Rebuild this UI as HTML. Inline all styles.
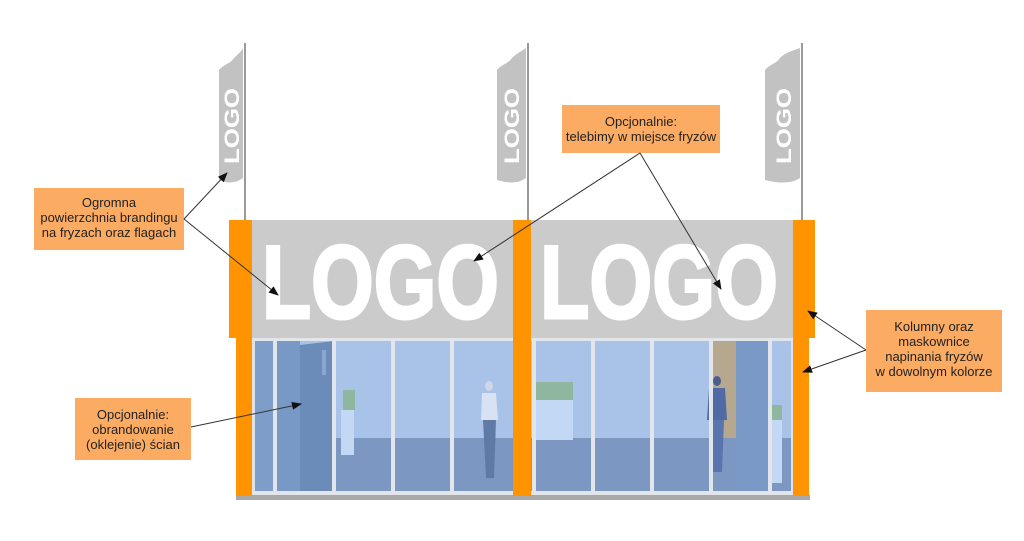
<!DOCTYPE html>
<html><head><meta charset="utf-8"><style>
html,body{margin:0;padding:0;background:#fff;}
svg{display:block;}
text{font-family:"Liberation Sans",sans-serif;}
.lbl{font-family:"Liberation Sans",sans-serif;font-size:13px;fill:#222;text-anchor:middle;}
</style></head><body>
<svg width="1024" height="541" viewBox="0 0 1024 541" xmlns="http://www.w3.org/2000/svg">
<defs>
<marker id="ah" markerWidth="10" markerHeight="8" refX="9" refY="4" orient="auto" markerUnits="userSpaceOnUse">
<path d="M0,0 L10,4 L0,8 z" fill="#111"/></marker>
</defs>
<g fill="#9a9a9a">
<rect x="244" y="43" width="2" height="177"/>
<rect x="527" y="43" width="2" height="177"/>
<rect x="801" y="43" width="2" height="177"/>
</g>
<g fill="#c2c2c2">
<path d="M219,70 C224,64 230,64 234,58 C238,54 241,52 243,48 L243,178 C236,183 228,184 219,180 Z"/>
<path d="M497,70 C502,64 508,64 512,58 C516,54 520,52 526,48 L526,178 C519,183 510,184 497,180 Z"/>
<path d="M765,70 C770,64 776,64 780,58 C784,54 788,52 800,48 L800,178 C793,183 780,184 765,180 Z"/>
</g>
<g fill="#fff" font-weight="bold" font-size="21">
<text transform="translate(239,164) rotate(-90)" textLength="76" lengthAdjust="spacingAndGlyphs">LOGO</text>
<text transform="translate(519,164) rotate(-90)" textLength="76" lengthAdjust="spacingAndGlyphs">LOGO</text>
<text transform="translate(791,164) rotate(-90)" textLength="76" lengthAdjust="spacingAndGlyphs">LOGO</text>
</g>
<rect x="252" y="220" width="541" height="118" fill="#cbcbcb"/>
<g fill="#fff" font-weight="bold" font-size="104" stroke="#fff" stroke-width="3">
<text x="262" y="318" textLength="237" lengthAdjust="spacingAndGlyphs">LOGO</text>
<text x="540" y="318" textLength="238" lengthAdjust="spacingAndGlyphs">LOGO</text>
</g>
<rect x="252" y="338" width="541" height="157" fill="#dde3ea"/>
<rect x="255" y="341" width="536" height="97" fill="#a9c3e8"/>
<rect x="255" y="438" width="536" height="54" fill="#7c98c2"/>
<rect x="255" y="341" width="20" height="151" fill="#7f9dc9"/>
<path d="M300,345 L334,341 L334,492 L300,492 Z" fill="#6b8bb8"/>
<rect x="277" y="341" width="23" height="151" fill="#7898c5"/>
<rect x="322" y="350" width="4" height="25" fill="#8aa6cf"/>
<rect x="341" y="410" width="13" height="45" fill="#c3d8f5"/>
<rect x="343" y="390" width="12" height="20" fill="#8fb7a0"/>
<rect x="535" y="400" width="38" height="40" fill="#c3d8f5"/>
<rect x="535" y="382" width="38" height="18" fill="#8fb7a0"/>
<rect x="772" y="420" width="10" height="63" fill="#c3d8f5"/>
<rect x="772" y="405" width="10" height="15" fill="#8fb7a0"/>
<rect x="712" y="341" width="24" height="97" fill="#b6a88f"/>
<rect x="736" y="341" width="34" height="151" fill="#7b99c6"/>
<g>
<ellipse cx="489" cy="386" rx="4" ry="5" fill="#cfd8e6"/>
<path d="M482,393 L496,393 L498,420 L481,420 Z" fill="#d9e2f2"/>
<path d="M483,420 L496,420 L494,478 L486,478 Z" fill="#5f7aa5"/>
<ellipse cx="717" cy="381" rx="4" ry="5" fill="#4a5f8a"/>
<path d="M709,388 L725,388 L727,420 L707,420 Z" fill="#4f6aa5"/>
<path d="M710,420 L724,420 L722,472 L712,472 Z" fill="#5a74ad"/>
</g>
<g fill="#e2e6ea">
<rect x="273" y="338" width="4" height="157"/>
<rect x="332" y="338" width="4" height="157"/>
<rect x="391" y="338" width="4" height="157"/>
<rect x="450" y="338" width="4" height="157"/>
<rect x="532" y="338" width="4" height="157"/>
<rect x="591" y="338" width="4" height="157"/>
<rect x="650" y="338" width="4" height="157"/>
<rect x="709" y="338" width="4" height="157"/>
<rect x="768" y="338" width="4" height="157"/>
<rect x="252" y="338" width="541" height="3"/>
<rect x="252" y="491" width="541" height="4"/>
</g>
<rect x="236" y="495" width="574" height="5" fill="#a8a8a8"/>
<g fill="#ff9400">
<rect x="229" y="220" width="23" height="118"/>
<rect x="236" y="338" width="16" height="158"/>
<rect x="513" y="220" width="18" height="276"/>
<rect x="793" y="220" width="22" height="118"/>
<rect x="793" y="338" width="16" height="158"/>
</g>
<g fill="#fcab63">
<rect x="34" y="188" width="150" height="62"/>
<rect x="562" y="105" width="158" height="48"/>
<rect x="866" y="310" width="136" height="82"/>
<rect x="75" y="398" width="116" height="62"/>
</g>
<text class="lbl"><tspan x="109" y="207">Ogromna</tspan><tspan x="109" y="222">powierzchnia brandingu</tspan><tspan x="109" y="237">na fryzach oraz flagach</tspan></text>
<text class="lbl"><tspan x="641" y="126">Opcjonalnie:</tspan><tspan x="641" y="141">telebimy w miejsce fryzów</tspan></text>
<text class="lbl"><tspan x="934" y="331">Kolumny oraz</tspan><tspan x="934" y="346">maskownice</tspan><tspan x="934" y="361">napinania fryzów</tspan><tspan x="934" y="376">w dowolnym kolorze</tspan></text>
<text class="lbl"><tspan x="133" y="419">Opcjonalnie:</tspan><tspan x="133" y="434">obrandowanie</tspan><tspan x="133" y="449">(oklejenie) ścian</tspan></text>
<g stroke="#333" stroke-width="1" fill="none">
<line x1="184" y1="219" x2="227" y2="173" marker-end="url(#ah)"/>
<line x1="184" y1="219" x2="278" y2="295" marker-end="url(#ah)"/>
<line x1="640" y1="153" x2="474" y2="261" marker-end="url(#ah)"/>
<line x1="640" y1="153" x2="721" y2="289" marker-end="url(#ah)"/>
<line x1="866" y1="350" x2="808" y2="311" marker-end="url(#ah)"/>
<line x1="866" y1="350" x2="803" y2="372" marker-end="url(#ah)"/>
<line x1="191" y1="427" x2="301" y2="404" marker-end="url(#ah)"/>
</g>
</svg>
</body></html>
